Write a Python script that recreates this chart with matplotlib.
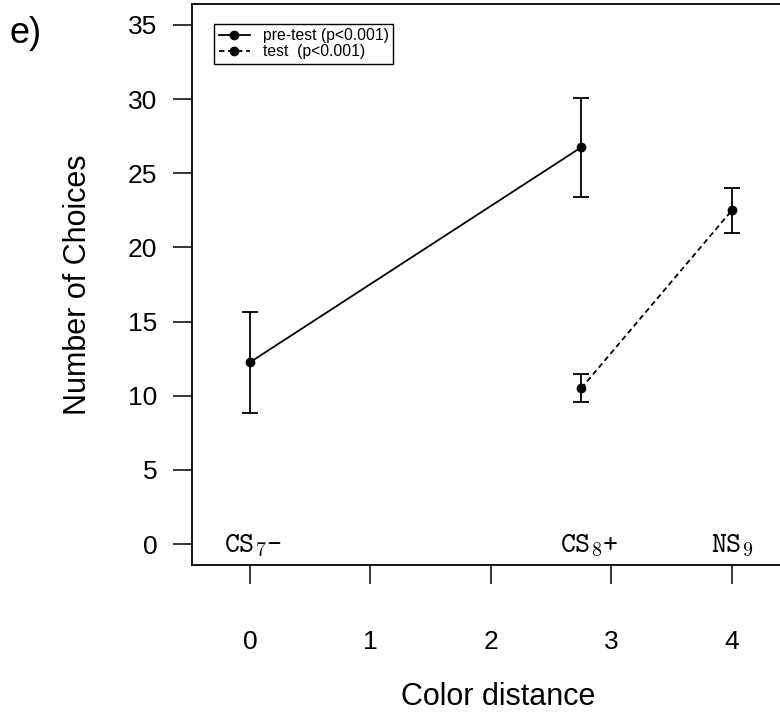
import matplotlib.pyplot as plt
from matplotlib.lines import Line2D

plt.rcParams['font.family'] = ['Liberation Sans', 'DejaVu Sans']
plt.rcParams['mathtext.fontset'] = 'cm'

# choices per stimulus, mean +/- error
pre_x = [0, 2.75]
pre_y = [12.25, 26.75]
pre_err = [3.4, 3.35]

test_x = [2.75, 4]
test_y = [10.5, 22.5]
test_err = [0.95, 1.5]

stim_x = [0.03, 2.82, 4.0]
stim_labels = ['CS$_7$-', 'CS$_8$+', 'NS$_9$']

x_ticks = [0, 1, 2, 3, 4]
y_ticks = [0, 5, 10, 15, 20, 25, 30, 35]

fig = plt.figure(figsize=(7.8, 7.18), dpi=100)
ax = fig.add_axes([0.2462, 0.2134, 0.7848, 0.7808])

ax.errorbar(pre_x, pre_y, yerr=pre_err, color='black', lw=1.3, marker='o', ms=6,
            capsize=6, capthick=1.3, elinewidth=1.3)
ax.errorbar(test_x, test_y, yerr=test_err, color='black', lw=1.3, ls=(0, (3, 2)),
            marker='o', ms=6, capsize=6, capthick=1.3, elinewidth=1.3)

for x, lab in zip(stim_x, stim_labels):
    ax.text(x, -0.55, lab, ha='center', va='baseline', fontsize=20.5,
            family=['cmtt10', 'DejaVu Sans Mono'])

ax.set_xlim(-0.48, 4.6)
ax.set_ylim(-1.4, 36.4)
ax.set_xticks(x_ticks)
ax.set_yticks(y_ticks)
ax.tick_params(direction='out', length=14, width=1.1, labelsize=19)
ax.tick_params(axis='y', pad=11)
ax.tick_params(axis='x', pad=33)
for s in ax.spines.values():
    s.set_linewidth(1.3)

ax.set_xlabel('Color distance', fontsize=22, labelpad=20)
ax.set_ylabel('Number of Choices', fontsize=22, labelpad=25)

handles = [
    Line2D([], [], color='black', lw=1.3, marker='o', ms=6),
    Line2D([], [], color='black', lw=1.3, ls=(0, (3, 2)), marker='o', ms=6),
]
ax.legend(handles, ['pre-test (p<0.001)', 'test  (p<0.001)'], loc='upper left',
          bbox_to_anchor=(0.036, 0.965), borderaxespad=0, fontsize=11.3,
          fancybox=False, framealpha=1, edgecolor='black', handlelength=2,
          handletextpad=0.8, labelspacing=0.05, borderpad=0.3)

fig.text(0.012, 0.953, 'e)', fontsize=26, va='center')

fig.savefig('out.png', dpi=100)
